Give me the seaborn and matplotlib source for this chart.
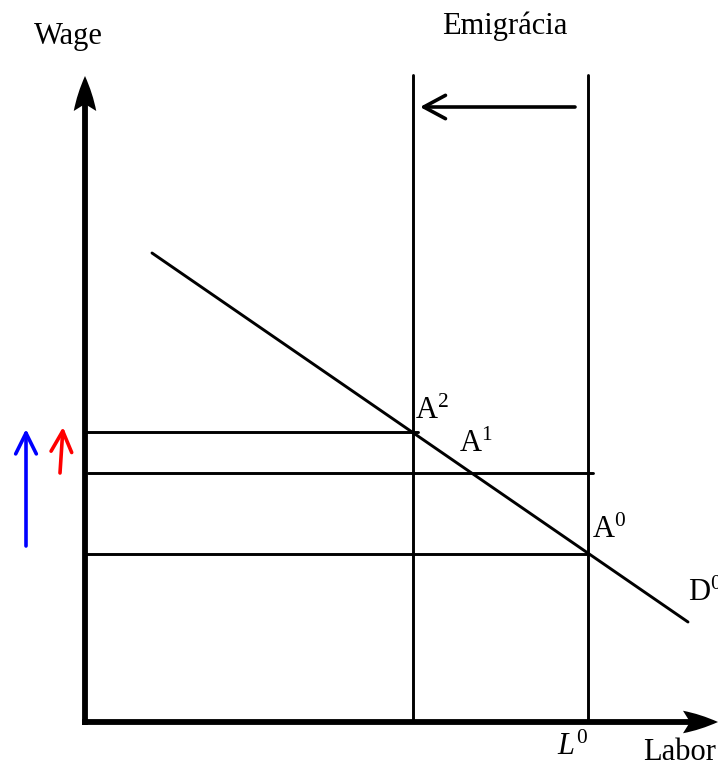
import numpy as np
import pandas as pd
import seaborn as sns
import matplotlib.pyplot as plt

# diagram values (labor on x, wage on y), origin at the corner of the axes
labor_levels = {'L1': 328, 'L0': 503}
wage_levels = {'A2': 290, 'A1': 249, 'A0': 168}
demand_labor = [67, 603]
demand_wage = [469, 100]
axis_top = 646
axis_right = 633
line_top = 647

sns.set_theme(style='white')
plt.rcParams['font.family'] = ['Liberation Serif', 'DejaVu Serif']
plt.rcParams['mathtext.fontset'] = 'custom'
plt.rcParams['mathtext.rm'] = 'Liberation Serif'
plt.rcParams['mathtext.it'] = 'Liberation Serif:italic'
plt.rcParams['text.color'] = 'black'

fig = plt.figure(figsize=(7.18, 7.65), dpi=100)
ax = fig.add_axes([0, 0, 1, 1])
ax.set_xlim(-85, 633)
ax.set_ylim(-43, 722)
ax.axis('off')

lw = 2.1
# demand curve
demand = pd.DataFrame({'labor': demand_labor, 'wage': demand_wage})
sns.lineplot(data=demand, x='labor', y='wage', color='black', lw=lw, ax=ax)

# vertical labor supply lines
for L in labor_levels.values():
    ax.plot([L, L], [0, line_top], color='black', lw=lw)

# horizontal wage lines
ax.plot([0, labor_levels['L1'] + 5], [wage_levels['A2']] * 2, color='black', lw=lw)
ax.plot([3, labor_levels['L0'] + 5], [wage_levels['A1']] * 2, color='black', lw=lw)
ax.plot([0, labor_levels['L0']], [wage_levels['A0']] * 2, color='black', lw=lw)

# main axes with arrows
ax.plot([0, 0], [-3, axis_top - 20], color='black', lw=4.2, solid_capstyle='butt')
ax.plot([-3, axis_right - 20], [0, 0], color='black', lw=4.2, solid_capstyle='butt')
ax.annotate('', xy=(0, axis_top), xytext=(0, axis_top - 30),
            arrowprops=dict(arrowstyle='fancy,head_length=1.4,head_width=0.9,tail_width=0.01',
                            color='black', lw=0, shrinkA=0, shrinkB=0, mutation_scale=18))
ax.annotate('', xy=(axis_right, 0), xytext=(axis_right - 30, 0),
            arrowprops=dict(arrowstyle='fancy,head_length=1.4,head_width=0.9,tail_width=0.01',
                            color='black', lw=0, shrinkA=0, shrinkB=0, mutation_scale=18))

# emigration arrow
ax.annotate('', xy=(labor_levels['L1'] + 7, 615), xytext=(490, 615),
            arrowprops=dict(arrowstyle='->,head_length=1.3,head_width=0.7', color='black',
                            lw=2.6, shrinkA=0, shrinkB=0))

# wage increase arrows
ax.annotate('', xy=(-59, 293), xytext=(-59, 176),
            arrowprops=dict(arrowstyle='->,head_length=1.25,head_width=0.62', color='blue',
                            lw=2.6, shrinkA=0, shrinkB=0))
ax.annotate('', xy=(-22, 295), xytext=(-25, 249),
            arrowprops=dict(arrowstyle='->,head_length=1.25,head_width=0.62', color='red',
                            lw=2.6, shrinkA=0, shrinkB=0))

fs = 22
ax.text(-17, 686, 'Wage', fontsize=fs, ha='center', va='center')
ax.text(420, 696, 'Emigrácia', fontsize=fs, ha='center', va='center')
ax.text(330, 311, 'A$^{2}$', fontsize=fs, ha='left', va='center')
ax.text(374, 278, 'A$^{1}$', fontsize=fs, ha='left', va='center')
ax.text(507, 192, 'A$^{0}$', fontsize=fs, ha='left', va='center')
ax.text(603, 129, 'D$^{0}$', fontsize=fs, ha='left', va='center')
ax.text(488, -25, '$L^{0}$', fontsize=fs, ha='center', va='center')
ax.text(595, -30, 'Labor', fontsize=fs, ha='center', va='center')

fig.savefig('out.png', dpi=100)
